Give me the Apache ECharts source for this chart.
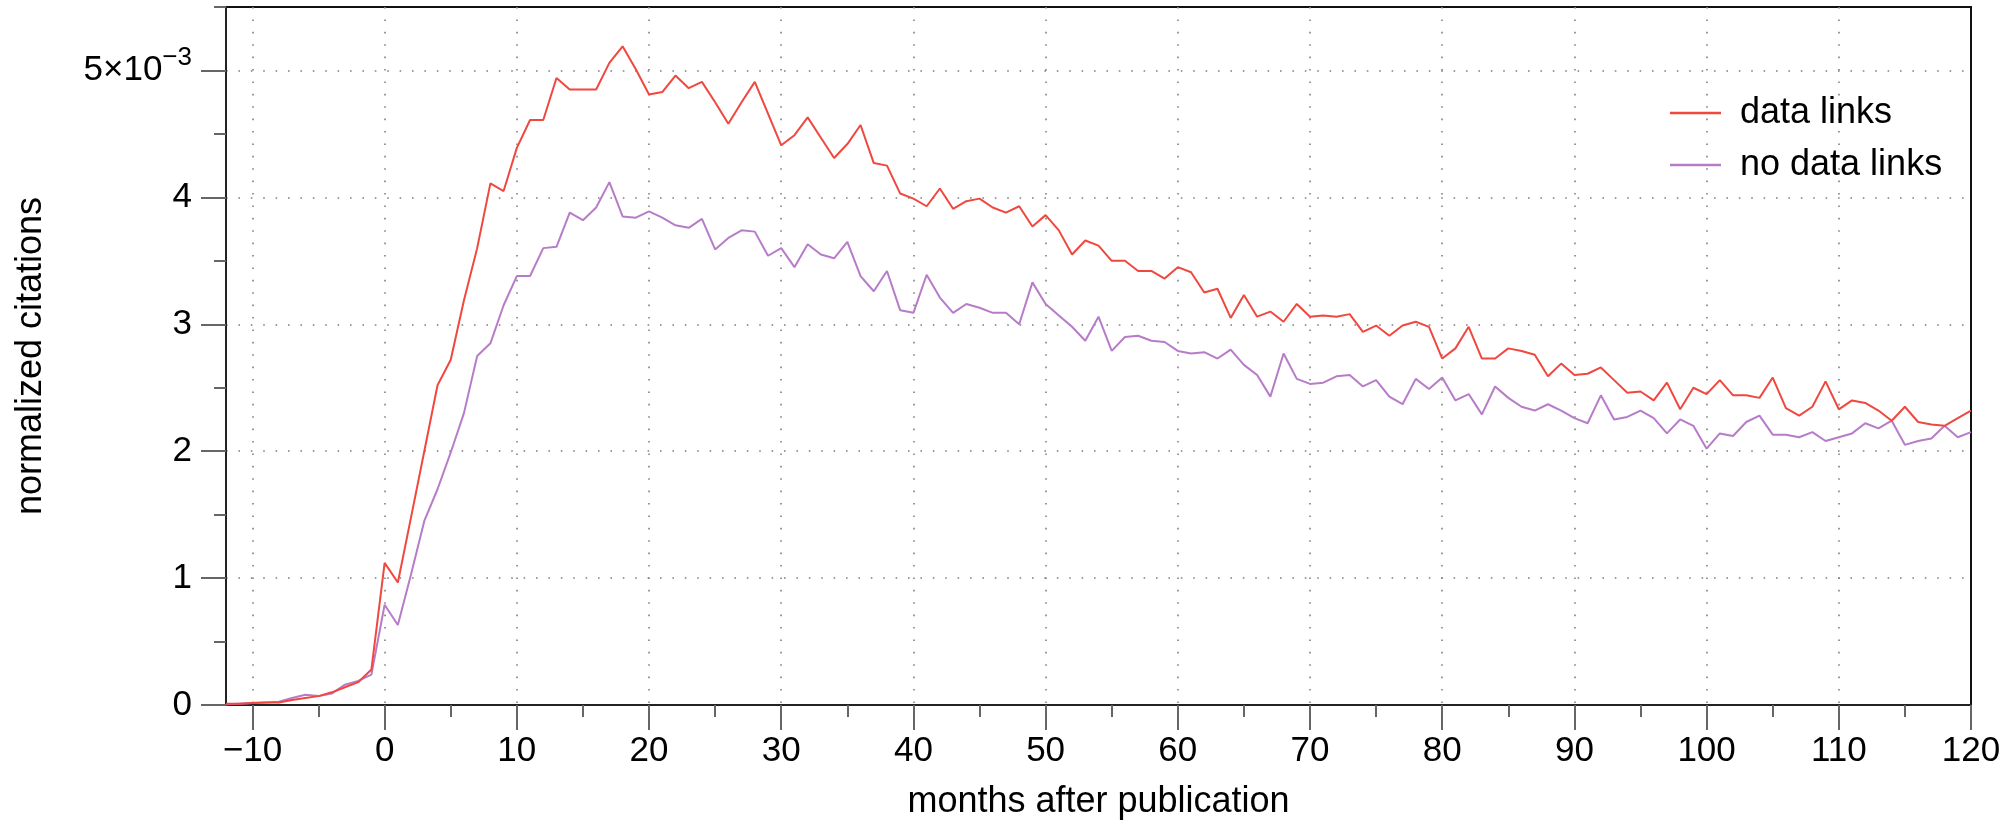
<!DOCTYPE html>
<html>
<head>
<meta charset="utf-8">
<title>normalized citations</title>
<script src="https://cdn.jsdelivr.net/npm/echarts@6/dist/echarts.min.js"></script>
<style>
  html, body { margin: 0; padding: 0; background: #fff; }
  #chart { width: 2016px; height: 826px; }
</style>
</head>
<body>
<div id="chart"></div>
<script>
// months after publication, -12 .. 120 (category axis)
const months = []
for (let m = -12; m <= 120; m++) months.push(m)

// tick positions
const monthTicks = [-10, 0, 10, 20, 30, 40, 50, 60, 70, 80, 90, 100, 110, 120]
const monthMinorTicks = [-5, 5, 15, 25, 35, 45, 55, 65, 75, 85, 95, 105, 115]
const citationTicks = [0, 1, 2, 3, 4, 5]

// normalized citations, in units of 1e-3
const dataLinks = [
  0.01, 0.01, 0.015, 0.02, 0.02, 0.04, 0.055, 0.07, 0.10, 0.14, 0.18, 0.28,
  1.12, 0.965, 1.48, 2.0, 2.52, 2.72, 3.19, 3.6, 4.11, 4.05,
  4.39, 4.61, 4.61, 4.94, 4.85, 4.85, 4.85, 5.06, 5.19, 5.01,
  4.81, 4.83, 4.96, 4.86, 4.91, 4.75, 4.58, 4.75, 4.91, 4.66,
  4.41, 4.49, 4.63, 4.47, 4.31, 4.42, 4.57, 4.27, 4.25, 4.03,
  3.99, 3.93, 4.07, 3.91, 3.97, 3.99, 3.92, 3.88, 3.93, 3.77,
  3.86, 3.74, 3.55, 3.66, 3.62, 3.50, 3.50, 3.42, 3.42, 3.36,
  3.45, 3.41, 3.25, 3.28, 3.05, 3.23, 3.06, 3.10, 3.02, 3.16,
  3.06, 3.07, 3.06, 3.08, 2.94, 2.99, 2.91, 2.99, 3.02, 2.98,
  2.73, 2.81, 2.98, 2.73, 2.73, 2.81, 2.79, 2.76, 2.59, 2.69,
  2.60, 2.61, 2.66, 2.56, 2.46, 2.47, 2.40, 2.54, 2.33, 2.50,
  2.45, 2.56, 2.44, 2.44, 2.42, 2.58, 2.34, 2.28, 2.35, 2.55,
  2.33, 2.40, 2.38, 2.32, 2.24, 2.35, 2.23, 2.21, 2.20, 2.26,
  2.32
]

const noDataLinks = [
  0.005, 0.01, 0.015, 0.02, 0.025, 0.055, 0.08, 0.07, 0.09, 0.16, 0.19, 0.24,
  0.79, 0.63, 1.03, 1.45, 1.70, 1.99, 2.30, 2.75, 2.85, 3.15,
  3.38, 3.38, 3.60, 3.61, 3.88, 3.82, 3.92, 4.12, 3.85, 3.84,
  3.89, 3.84, 3.78, 3.76, 3.83, 3.59, 3.68, 3.74, 3.73, 3.54,
  3.60, 3.45, 3.63, 3.55, 3.52, 3.65, 3.38, 3.26, 3.42, 3.11,
  3.09, 3.39, 3.21, 3.09, 3.16, 3.13, 3.09, 3.09, 3.00, 3.33,
  3.16, 3.07, 2.98, 2.87, 3.06, 2.79, 2.90, 2.91, 2.87, 2.86,
  2.79, 2.77, 2.78, 2.73, 2.80, 2.68, 2.60, 2.43, 2.77, 2.57,
  2.53, 2.54, 2.59, 2.60, 2.51, 2.56, 2.43, 2.37, 2.57, 2.49,
  2.58, 2.40, 2.45, 2.29, 2.51, 2.42, 2.35, 2.32, 2.37, 2.32,
  2.26, 2.22, 2.44, 2.25, 2.27, 2.32, 2.26, 2.14, 2.25, 2.20,
  2.02, 2.14, 2.12, 2.23, 2.28, 2.13, 2.13, 2.11, 2.15, 2.08,
  2.11, 2.14, 2.22, 2.18, 2.24, 2.05, 2.08, 2.10, 2.20, 2.11,
  2.15
]

const FONT = 'Liberation Sans, Arial, Helvetica, sans-serif'
const RED = '#f0473f'
const PURPLE = '#b77cc8'

const dotted = {
  color: '#808080',
  width: 1.6,
  type: [1.6, 10.8]
}
const tickStyle = { color: '#666', width: 2 }

const chart = echarts.init(document.getElementById('chart'))

chart.setOption({
  animation: false,
  backgroundColor: '#fff',
  grid: {
    left: 226,
    right: 45,
    top: 7,
    bottom: 121,
    show: true,
    borderColor: '#111',
    borderWidth: 2,
    backgroundColor: 'transparent'
  },
  legend: {
    orient: 'vertical',
    left: 1665,
    top: 90,
    icon: 'rect',
    itemWidth: 51,
    itemHeight: 2.5,
    itemGap: 16,
    itemStyle: { borderWidth: 0 },
    textStyle: {
      fontFamily: FONT,
      fontSize: 36,
      color: '#000',
      padding: [0, 0, 0, 14]
    },
    data: ['data links', 'no data links']
  },
  xAxis: [
    {
      type: 'category',
      position: 'bottom',
      data: months,
      boundaryGap: false,
      name: 'months after publication',
      nameLocation: 'middle',
      nameGap: 79,
      nameTextStyle: { fontFamily: FONT, fontSize: 36, color: '#000' },
      axisLine: { show: true, lineStyle: { color: '#222', width: 2 } },
      axisTick: {
        show: true,
        length: 25,
        interval: (i, v) => monthTicks.includes(Number(v)),
        lineStyle: tickStyle
      },
      axisLabel: {
        show: true,
        margin: 29,
        interval: (i, v) => monthTicks.includes(Number(v)),
        fontFamily: FONT,
        fontSize: 35,
        color: '#000',
        formatter: v => (Number(v) < 0 ? '\u2212' + Math.abs(Number(v)) : v)
      },
      splitLine: {
        show: true,
        interval: (i, v) => monthTicks.includes(Number(v)) && Number(v) < 120,
        lineStyle: dotted
      }
    },
    {
      // minor ticks every 5 months
      type: 'category',
      position: 'bottom',
      data: months,
      boundaryGap: false,
      axisLine: { show: false },
      axisLabel: { show: false },
      splitLine: { show: false },
      axisTick: {
        show: true,
        length: 12,
        interval: (i, v) => monthMinorTicks.includes(Number(v)),
        lineStyle: tickStyle
      }
    }
  ],
  yAxis: [
    {
      type: 'value',
      position: 'left',
      min: 0,
      max: 5.5,
      interval: 1,
      name: 'normalized citations',
      nameLocation: 'middle',
      nameGap: 177,
      nameTextStyle: { fontFamily: FONT, fontSize: 36, color: '#000' },
      axisLine: { show: true, lineStyle: { color: '#222', width: 2 } },
      axisTick: {
        show: true,
        length: 25,
        customValues: citationTicks,
        lineStyle: tickStyle
      },
      axisLabel: {
        show: true,
        margin: 34,
        customValues: citationTicks,
        fontFamily: FONT,
        fontSize: 35,
        color: '#000',
        formatter: v => {
          // top tick carries the 10^-3 scale factor
          if (v === 5) return '{base|5\u00d710}{sup|\u22123}'
          return citationTicks.includes(v) ? String(v) : ''
        },
        rich: {
          base: { fontFamily: FONT, fontSize: 35, color: '#000' },
          sup: { fontFamily: FONT, fontSize: 26, color: '#000', padding: [0, 0, 26, 0] }
        }
      },
      splitLine: { show: true, lineStyle: dotted }
    },
    {
      // minor ticks every 0.5
      type: 'value',
      position: 'left',
      min: 0,
      max: 5.5,
      interval: 0.5,
      axisLine: { show: false },
      axisLabel: { show: false },
      splitLine: { show: false },
      axisTick: { show: true, length: 12, lineStyle: tickStyle }
    }
  ],
  series: [
    {
      name: 'data links',
      type: 'line',
      data: dataLinks,
      xAxisIndex: 0,
      yAxisIndex: 0,
      symbol: 'none',
      color: RED,
      lineStyle: { color: RED, width: 2 },
      z: 3
    },
    {
      name: 'no data links',
      type: 'line',
      data: noDataLinks,
      xAxisIndex: 0,
      yAxisIndex: 0,
      symbol: 'none',
      color: PURPLE,
      lineStyle: { color: PURPLE, width: 2 },
      z: 2
    }
  ]
})

window.addEventListener('resize', () => chart.resize())
</script>
</body>
</html>
